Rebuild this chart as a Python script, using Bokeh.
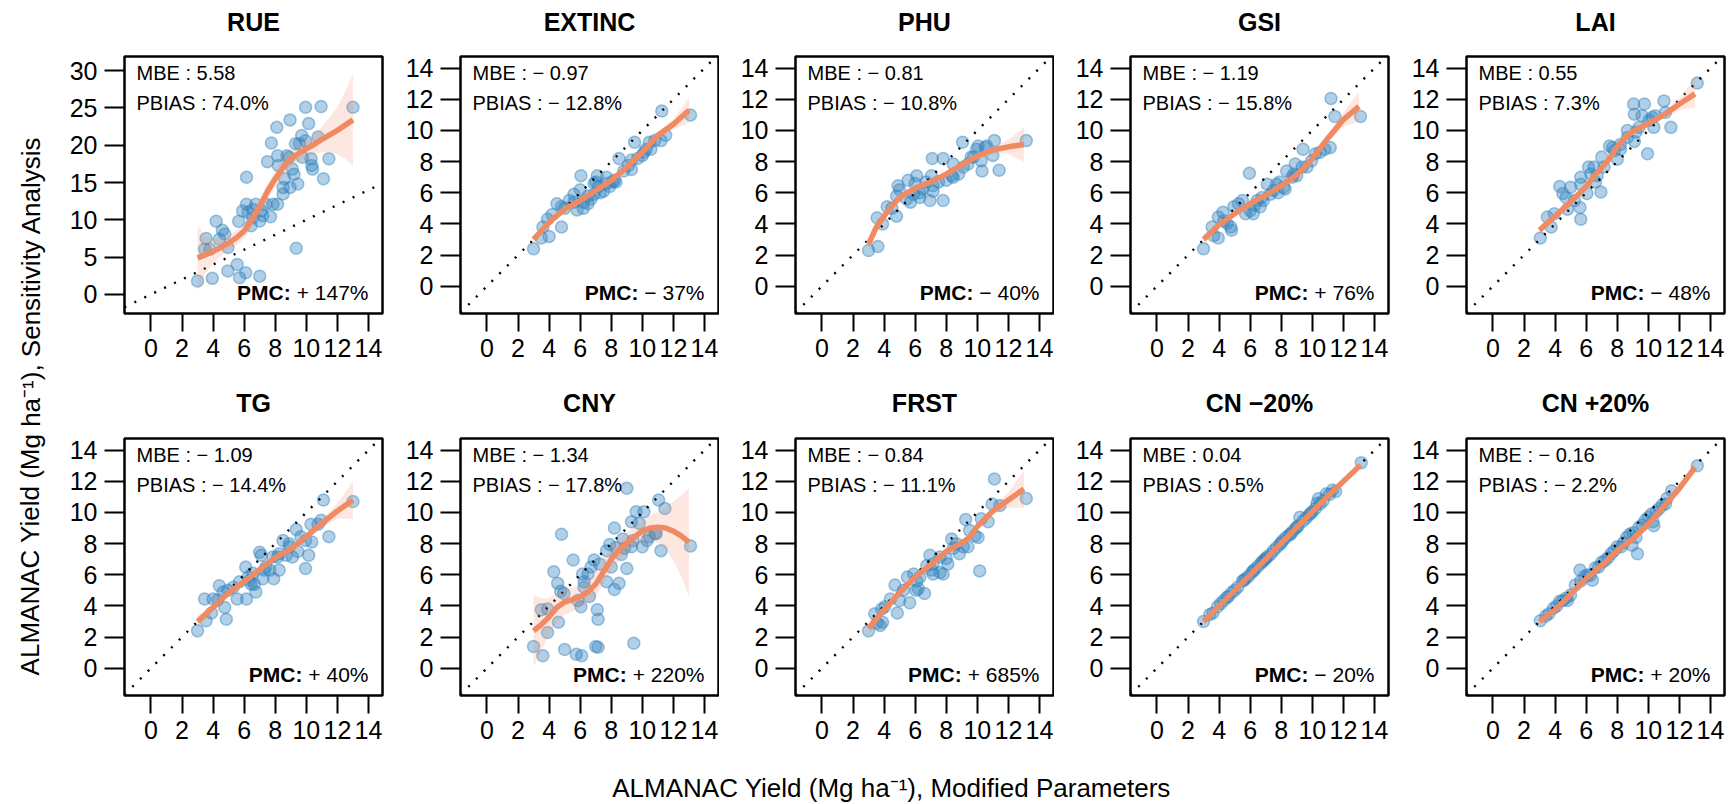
from bokeh.plotting import figure
from bokeh.models import Range1d, Label, FixedTicker
from bokeh.layouts import row, column
from bokeh.embed import file_html
from bokeh.resources import INLINE

FONT = "Liberation Sans"
BLUE = "#3182BD"
ORANGE = "#EF8A62"

titles = ["RUE", "EXTINC", "PHU", "GSI", "LAI", "TG", "CNY", "FRST", "CN \u221220%", "CN +20%"]
mbe = [5.58, -0.97, -0.81, -1.19, 0.55, -1.09, -1.34, -0.84, 0.04, -0.16]
pbias = [74.0, -12.8, -10.8, -15.8, 7.3, -14.4, -17.8, -11.1, 0.5, -2.2]
pmc = [147, -37, -40, 76, -48, 40, 220, 685, -20, 20]

x_ticks = [0, 2, 4, 6, 8, 10, 12, 14]
y_ticks = [0, 2, 4, 6, 8, 10, 12, 14]
y_ticks_rue = [0, 5, 10, 15, 20, 25, 30]

# ---------------- RUE ----------------
RUE_x = [3.0,3.55,3.45,3.8,3.95,4.2,4.4,4.6,4.75,4.95,4.95,5.55,5.65,5.7,6.1,6.15,6.15,6.25,6.45,6.55,6.75,7.0,7.0,7.1,7.2,7.5,7.7,7.75,7.85,8.1,8.15,8.2,8.15,8.5,8.6,8.75,8.9,8.95,8.95,9.1,9.2,9.3,9.45,9.35,9.55,9.7,9.75,9.95,10.15,9.95,10.3,10.35,10.4,10.75,10.95,11.1,11.45,13.0,5.9,6.55,7.4,8.5]
RUE_y = [1.8,7.5,6.05,6.05,2.15,9.8,7.4,8.6,8.1,3.15,6.3,4.0,9.8,2.25,2.9,15.7,12.1,11.0,9.2,11.4,12.1,2.45,9.85,11.2,10.55,17.8,10.4,20.3,12.1,22.4,12.1,17.3,18.6,13.45,15.5,18.6,18.4,14.35,23.4,16.8,16.1,20.2,14.8,6.2,20.2,21.3,18.4,20.6,22.9,25.1,18.2,17.3,16.8,21.1,25.2,15.5,18.2,25.1,11.2,10.3,12.1,14.35]
RUE_fx = [3,3.5,4,4.5,5,5.5,6,6.5,7,7.5,8,8.5,9,9.5,10,10.5,11,11.5,12,12.5,13]
RUE_fit = [4.9,5.3,5.8,6.3,6.9,7.6,8.5,10.0,11.8,13.8,15.5,17.0,18.2,18.9,19.5,20.1,20.8,21.4,22.0,22.7,23.4]
RUE_lo = [0.5,2.8,4.2,5.1,5.9,6.6,7.5,8.9,10.7,12.7,14.4,15.9,17.1,17.8,18.4,18.8,19.1,19.1,18.8,18.2,17.2]
RUE_hi = [9.3,7.8,7.4,7.5,7.9,8.6,9.5,11.1,12.9,14.9,16.6,18.1,19.3,20.0,20.6,21.4,22.5,23.7,25.2,27.2,29.6]

# ---------------- EXTINC ----------------
EXT_x = [3.0,3.5,3.6,4.0,3.9,4.2,4.5,4.8,4.8,5.0,5.6,5.8,6.05,6.0,6.2,6.2,6.5,6.7,6.9,7.1,7.0,7.2,7.5,7.7,7.9,8.1,8.3,8.5,8.8,9.1,9.3,9.5,9.7,10.0,10.25,10.45,10.55,10.8,11.2,11.25,11.5,13.1,6.5,7.3,8.2,5.6,6.9,7.7,9.3,10.1,5.3]
EXT_y = [2.4,3.1,3.8,3.2,4.3,4.6,5.3,3.8,5.1,5.0,5.9,4.9,7.1,6.2,5.0,5.4,5.3,5.6,5.9,7.1,6.7,6.4,6.1,7.0,6.4,6.7,6.7,8.2,7.4,7.75,8.1,9.25,8.2,8.4,8.8,9.25,8.8,9.35,9.35,11.25,9.7,11.0,5.8,6.0,6.8,5.4,6.6,6.6,7.5,8.6,5.5]
EXT_fx = [3,4,5,6,7,8,9,10,11,12,13]
EXT_fit = [3.0,4.1,4.95,5.5,6.15,6.8,7.65,8.6,9.7,10.4,11.3]
EXT_lo = [2.7,3.9,4.8,5.35,6.0,6.65,7.5,8.45,9.5,10.05,10.5]
EXT_hi = [3.3,4.3,5.1,5.65,6.3,6.95,7.8,8.75,9.9,10.75,12.1]

# ---------------- PHU ----------------
PHU_x = [3.0,3.6,3.55,3.9,4.2,4.5,4.8,4.9,4.8,5.0,5.55,5.7,6.0,6.1,6.3,6.5,6.7,6.95,7.05,7.1,7.15,7.5,7.8,7.8,8.0,8.35,8.45,8.8,9.05,9.1,9.4,9.6,9.95,10.05,10.25,10.3,10.5,10.6,11.0,11.1,11.4,13.15,5.45,5.9,7.15,8.45,9.75,6.3]
PHU_y = [2.3,2.55,4.4,4.0,5.1,5.0,4.5,6.45,5.8,6.2,6.8,5.4,6.6,7.1,5.7,6.25,6.7,5.5,7.1,8.2,6.1,6.7,8.2,5.5,6.8,7.1,7.85,7.2,9.25,7.65,7.85,8.3,8.8,9.0,8.05,7.4,8.9,9.0,8.4,9.35,7.45,9.35,5.6,5.9,6.45,7.0,8.3,6.0]
PHU_fx = [3,3.5,4,4.5,5,6,7,8,9,10,11,12,13]
PHU_fit = [2.7,3.8,4.5,5.15,5.7,6.3,6.7,7.2,7.8,8.35,8.75,8.95,9.1]
PHU_lo = [2.3,3.5,4.3,4.95,5.5,6.1,6.55,7.05,7.6,8.15,8.5,8.5,8.0]
PHU_hi = [3.1,4.1,4.7,5.35,5.9,6.5,6.85,7.35,8.0,8.55,9.0,9.4,10.2]

# ---------------- GSI ----------------
GSI_x = [3.0,3.55,3.65,3.95,3.95,4.25,4.5,4.75,4.8,4.95,5.5,5.7,5.95,6.0,6.2,6.3,6.65,6.75,7.1,7.3,7.5,7.7,7.8,8.15,8.25,8.35,8.7,8.9,9.0,9.35,9.4,9.65,9.95,10.2,10.5,10.8,11.15,11.2,11.45,13.1,5.25,6.45,7.9,8.8,6.85,4.3]
GSI_y = [2.4,3.8,3.25,3.1,4.45,4.75,4.05,3.8,3.6,5.1,5.5,4.65,7.25,4.85,4.65,5.2,5.1,5.7,6.55,5.9,6.15,6.55,6.0,6.35,6.25,7.4,7.0,7.85,7.1,7.65,8.8,7.65,8.05,8.5,8.6,8.8,8.9,12.05,10.9,10.9,5.3,5.5,6.7,7.2,5.5,4.2]
GSI_fx = [3,4,5,6,7,8,9,10,11,12,13]
GSI_fit = [3.0,3.95,4.65,5.3,5.85,6.45,7.15,8.2,9.5,10.7,11.55]
GSI_lo = [2.7,3.75,4.5,5.15,5.7,6.3,7.0,8.0,9.25,10.25,10.6]
GSI_hi = [3.3,4.15,4.8,5.45,6.0,6.6,7.3,8.4,9.75,11.15,12.5]

# ---------------- LAI ----------------
LAI_x = [3.05,3.5,3.75,3.95,4.3,4.5,4.7,4.8,5.0,5.25,5.6,5.65,5.65,6.05,6.15,6.3,6.5,6.6,6.95,7.0,7.15,7.5,7.7,8.0,8.2,8.65,9.05,9.1,9.1,9.4,9.75,9.6,9.95,10.05,10.35,10.45,11.0,11.1,11.45,13.15,5.65,6.7,7.8,8.65,9.2,8.2,10.25]
LAI_y = [3.1,4.45,3.8,4.65,6.4,5.95,5.7,4.95,6.35,5.5,5.05,4.3,7.0,5.95,7.65,7.2,7.65,6.7,6.05,8.3,7.65,9.0,8.9,8.15,8.8,10.0,11.7,11.05,9.3,10.2,11.7,10.95,8.5,10.65,10.2,10.95,11.9,11.15,10.2,13.05,6.55,7.1,8.7,9.55,9.9,9.1,10.85]
LAI_fx = [3,4,5,6,6.5,7,7.5,8,8.5,9,10,11,12,13]
LAI_fit = [3.6,4.5,5.4,6.4,7.05,7.6,8.2,8.95,9.55,9.95,10.45,11.0,11.7,12.35]
LAI_lo = [3.3,4.3,5.25,6.25,6.9,7.45,8.05,8.8,9.4,9.8,10.3,10.8,11.3,11.5]
LAI_hi = [3.9,4.7,5.55,6.55,7.2,7.75,8.35,9.1,9.7,10.1,10.6,11.2,12.1,13.3]

# ---------------- TG ----------------
TG_x = [3.0,3.45,3.55,3.9,4.0,4.3,4.4,4.65,4.75,4.85,4.95,5.55,5.7,6.15,6.1,6.25,6.45,6.65,6.75,7.0,7.1,7.2,7.3,7.65,7.85,7.9,8.15,8.25,8.5,8.7,8.9,9.1,9.35,9.45,9.65,9.95,9.95,10.15,10.3,10.35,10.75,10.95,11.1,11.45,13.0,5.3,6.55,7.4,8.25,8.9,6.35]
TG_y = [2.4,4.45,3.05,3.55,4.45,4.4,5.3,4.9,3.9,3.15,5.0,4.45,5.55,4.45,6.5,5.85,5.4,5.4,4.9,7.45,7.25,5.75,6.3,6.3,7.15,5.75,7.15,6.3,8.2,7.25,7.8,7.15,8.9,7.5,8.45,6.4,8.2,7.25,9.25,8.1,9.25,9.5,10.8,8.45,10.7,5.2,6.1,6.5,7.35,8.0,5.65]
TG_fx = [3,4,5,6,7,8,9,10,11,12,13]
TG_fit = [3.0,3.9,4.85,5.55,6.35,7.1,7.65,8.45,9.3,10.1,10.8]
TG_lo = [2.6,3.7,4.7,5.4,6.2,6.95,7.5,8.25,9.05,9.6,9.6]
TG_hi = [3.4,4.1,5.0,5.7,6.5,7.25,7.8,8.65,9.55,10.6,12.0]

# ---------------- CNY ----------------
CNY_x = [3.0,3.6,3.5,3.9,3.9,4.3,4.55,4.6,4.75,4.8,4.95,5.0,5.55,5.75,5.85,6.05,6.1,6.15,6.25,6.5,6.6,6.7,6.9,7.1,7.15,7.0,7.15,7.25,7.7,7.7,7.9,8.0,8.2,8.2,8.3,8.5,8.75,8.85,9.0,9.3,9.3,9.45,9.6,9.8,10.0,10.1,10.3,10.45,10.8,10.9,11.05,11.2,11.45,9.0,13.1,9.4,8.65,6.25]
CNY_y = [1.4,0.8,3.75,2.3,3.8,6.2,5.45,2.95,4.95,8.6,4.8,1.2,6.95,0.9,4.35,3.95,0.8,6.05,5.55,6.05,4.6,6.5,6.95,3.75,3.15,1.4,1.35,6.7,5.55,7.55,7.95,6.5,5.05,9.0,7.75,5.45,8.3,7.7,6.4,9.4,7.8,1.6,10.05,9.3,7.8,10.05,8.2,8.45,8.65,8.65,10.8,7.55,10.25,11.55,7.85,8.2,7.3,5.2]
CNY_fx = [3,3.5,4,4.5,5,5.5,6,6.5,7,7.5,8,8.5,9,9.5,10,10.5,11,11.5,12,12.5,13]
CNY_fit = [2.4,2.8,3.3,3.9,4.25,4.4,4.6,4.9,5.4,6.2,7.0,7.6,8.05,8.45,8.8,9.0,9.05,9.0,8.8,8.5,8.1]
CNY_lo = [0.1,1.1,2.1,2.95,3.45,3.65,3.9,4.15,4.6,5.4,6.25,6.9,7.4,7.8,8.1,8.2,8.05,7.65,6.9,5.9,4.6]
CNY_hi = [4.7,4.5,4.5,4.85,5.05,5.15,5.3,5.65,6.2,7.0,7.75,8.3,8.7,9.1,9.5,9.8,10.05,10.35,10.7,11.1,11.6]

# ---------------- FRST ----------------
FRST_x = [3.0,3.4,3.55,3.75,3.85,3.9,4.05,4.4,4.7,4.85,5.0,5.5,5.65,5.9,6.05,6.2,6.3,6.6,6.95,7.05,7.15,7.6,7.8,8.0,8.1,8.35,8.65,8.85,9.1,9.25,9.4,9.5,9.85,10.05,10.15,10.25,10.7,10.95,11.1,11.45,13.15,5.25,6.75,7.6,8.45,7.15,6.1]
FRST_y = [2.4,3.5,2.9,2.75,3.8,2.95,3.95,4.45,5.35,3.55,4.35,5.85,4.2,6.05,5.0,5.1,5.85,4.8,7.25,6.3,6.7,6.15,6.05,7.05,6.7,8.3,8.0,7.35,7.8,9.55,7.8,8.85,8.5,8.4,6.25,9.6,9.4,10.55,12.15,10.45,10.9,5.0,6.6,7.15,7.7,6.05,5.6]
FRST_fx = [3,4,5,6,7,8,9,9.5,10,11,12,13]
FRST_fit = [2.55,3.75,4.85,5.85,6.65,7.5,8.05,8.4,9.1,10.1,10.8,11.5]
FRST_lo = [2.1,3.5,4.7,5.7,6.5,7.35,7.85,8.2,8.9,9.85,10.3,10.3]
FRST_hi = [3.0,4.0,5.0,6.0,6.8,7.65,8.25,8.6,9.3,10.35,11.3,12.7]

# ---------------- CN -20% ----------------
CNM_x = [3.0,3.4,3.6,3.9,4.1,4.3,4.5,4.6,4.8,5.0,5.2,5.5,5.6,5.7,5.9,6.1,6.2,6.3,6.5,6.7,6.8,6.9,7.0,7.1,7.3,7.5,7.7,7.9,8.0,8.1,8.3,8.5,8.6,8.7,8.9,9.0,9.1,9.2,9.4,9.6,9.8,9.9,10.0,10.2,10.3,10.4,10.5,10.7,10.9,11.1,11.3,11.5,13.15]
CNM_y = [3.0,3.45,3.55,3.95,4.15,4.35,4.55,4.6,4.85,5.0,5.2,5.6,5.65,5.75,5.9,6.15,6.25,6.35,6.55,6.75,6.85,6.95,7.05,7.15,7.3,7.55,7.75,7.95,8.05,8.2,8.4,8.55,8.6,8.75,8.95,9.05,9.15,9.7,9.45,9.65,9.85,9.95,10.05,10.25,10.6,10.9,10.55,10.75,11.2,11.15,11.45,11.35,13.2]
CNM_fx = [3,5,7,9,11,13.1]
CNM_fit = [3.0,5.0,7.0,9.05,11.05,13.05]
CNM_lo = [2.92,4.95,6.95,9.0,10.98,12.9]
CNM_hi = [3.08,5.05,7.05,9.1,11.12,13.2]

# ---------------- CN +20% ----------------
CNP_x = [3.05,3.4,3.6,3.9,4.1,4.3,4.5,4.7,4.8,5.0,5.3,5.6,5.65,5.9,6.1,6.25,6.4,6.6,6.8,7.0,7.2,7.4,7.6,7.8,8.0,8.25,8.4,8.6,8.8,8.95,9.0,9.2,9.3,9.4,9.6,9.8,10.0,10.2,10.3,10.35,10.5,10.7,10.9,11.1,11.2,11.5,13.15]
CNP_y = [3.05,3.35,3.5,3.85,4.0,4.3,4.35,4.5,4.35,4.7,5.35,6.3,5.6,5.9,6.0,5.95,5.65,6.45,6.5,6.8,6.9,7.1,7.35,7.55,7.8,7.8,8.05,8.4,8.6,7.9,8.7,8.4,7.35,9.05,9.2,9.5,9.7,9.9,9.4,9.15,10.05,10.25,10.5,10.55,10.9,11.4,13.0]
CNP_fx = [3,4,5,6,7,8,9,10,11,12,13]
CNP_fit = [3.0,3.75,4.75,5.75,6.6,7.55,8.3,9.25,10.4,11.55,12.9]
CNP_lo = [2.85,3.65,4.65,5.65,6.5,7.45,8.2,9.12,10.25,11.35,12.5]
CNP_hi = [3.15,3.85,4.85,5.85,6.7,7.65,8.4,9.38,10.55,11.75,13.3]

panels = [
    (RUE_x, RUE_y, RUE_fx, RUE_fit, RUE_lo, RUE_hi),
    (EXT_x, EXT_y, EXT_fx, EXT_fit, EXT_lo, EXT_hi),
    (PHU_x, PHU_y, PHU_fx, PHU_fit, PHU_lo, PHU_hi),
    (GSI_x, GSI_y, GSI_fx, GSI_fit, GSI_lo, GSI_hi),
    (LAI_x, LAI_y, LAI_fx, LAI_fit, LAI_lo, LAI_hi),
    (TG_x, TG_y, TG_fx, TG_fit, TG_lo, TG_hi),
    (CNY_x, CNY_y, CNY_fx, CNY_fit, CNY_lo, CNY_hi),
    (FRST_x, FRST_y, FRST_fx, FRST_fit, FRST_lo, FRST_hi),
    (CNM_x, CNM_y, CNM_fx, CNM_fit, CNM_lo, CNM_hi),
    (CNP_x, CNP_y, CNP_fx, CNP_fit, CNP_lo, CNP_hi),
]

# ---------------- layout constants (page has no margin) ----------------
X_RANGE = (-1.7, 14.9)
Y_RANGE = (-1.75, 14.75)
Y_RANGE_RUE = (-2.56, 31.9)
FRAME_W, FRAME_H = 258, 257
LEFT = 76
PAD_TOP = 6
COL_W = [336, 335, 335, 336, 346]
ROW_BOTTOM = [77, 50]
STRIP_H = [50, 42]          # title strips above each row
TITLE_MID = [29, 30]        # title centre above strip bottom
YLAB_W = 48
GRID_W = sum(COL_W)

CW = {c: 0.556 for c in "0123456789"}
CW.update({" ": 0.278, "%": 0.889, "+": 0.584, "\u2212": 0.584, ".": 0.278})


def text_width(s, size):
    return sum(CW.get(c, 0.556) for c in s) * size


def signed(v, nd):
    s = f"{abs(v):.{nd}f}"
    return ("\u2212 " + s) if v < 0 else s


def add_label(p, x, y, text, size, align="left", baseline="middle", bold=False):
    p.add_layout(Label(x=x, y=y, x_units="screen", y_units="screen", text=text,
                       text_font=FONT, text_font_size=f"{size}px", text_align=align,
                       text_baseline=baseline, text_color="black",
                       text_font_style="bold" if bold else "normal"))


def blank(width, height):
    f = figure(width=width, height=height, x_range=Range1d(0, width), y_range=Range1d(0, height),
               output_backend="svg", toolbar_location=None, min_border=0,
               x_axis_type=None, y_axis_type=None)
    f.outline_line_color = None
    f.xgrid.visible = False
    f.ygrid.visible = False
    f.background_fill_color = "white"
    f.border_fill_color = "white"
    return f


def make_panel(i, width, bottom):
    xs, ys, fx, fit, lo, hi = panels[i]
    yr = Y_RANGE_RUE if i == 0 else Y_RANGE
    p = figure(width=width, height=PAD_TOP + FRAME_H + bottom,
               x_range=Range1d(*X_RANGE), y_range=Range1d(*yr),
               output_backend="svg", toolbar_location=None,
               min_border_left=LEFT, min_border_right=width - LEFT - FRAME_W,
               min_border_top=PAD_TOP, min_border_bottom=bottom)
    p.xgrid.visible = False
    p.ygrid.visible = False
    p.background_fill_color = "white"
    p.border_fill_color = "white"
    p.outline_line_color = "black"
    p.outline_line_width = 2.5
    p.outline_line_alpha = 1.0
    for ax in (p.xaxis[0], p.yaxis[0]):
        ax.axis_line_color = None
        ax.major_tick_line_width = 2
        ax.major_tick_line_color = "black"
        ax.major_tick_in = 0
        ax.minor_tick_line_color = None
        ax.major_label_text_font = FONT
        ax.major_label_text_font_size = "25px"
        ax.major_label_text_color = "black"
    p.xaxis.ticker = FixedTicker(ticks=x_ticks)
    p.yaxis.ticker = FixedTicker(ticks=y_ticks_rue if i == 0 else y_ticks)
    p.xaxis.major_tick_out = 18
    p.yaxis.major_tick_out = 20
    p.xaxis.major_label_standoff = 7
    p.yaxis.major_label_standoff = 7

    p.scatter(xs, ys, size=12, fill_color=BLUE, fill_alpha=0.38,
              line_color=BLUE, line_alpha=0.45, line_width=1.5)
    p.line([X_RANGE[0], X_RANGE[1]], [X_RANGE[0], X_RANGE[1]], line_color="black",
           line_width=2.4, line_dash="2 9")
    p.varea(x=fx, y1=lo, y2=hi, fill_color=ORANGE, fill_alpha=0.2)
    p.line(fx, fit, line_color=ORANGE, line_width=5.5, line_cap="butt")

    add_label(p, 12, FRAME_H - 16, "MBE : " + signed(mbe[i], 2), 20)
    add_label(p, 12, FRAME_H - 46, "PBIAS : " + signed(pbias[i], 1) + "%", 20)
    val = ("+ " if pmc[i] > 0 else "\u2212 ") + f"{abs(pmc[i])}%"
    xr = FRAME_W - 14
    add_label(p, xr, 21.5, val, 21, align="right")
    add_label(p, xr - text_width(val, 21) - 6, 21.5, "PMC:", 21, align="right", bold=True)
    return p


def make_strip(r):
    s = blank(GRID_W, STRIP_H[r])
    start = 0
    for k in range(5):
        s.add_layout(Label(x=start + LEFT + FRAME_W / 2, y=TITLE_MID[r], text=titles[5 * r + k],
                           text_align="center", text_baseline="middle",
                           text_font=FONT, text_font_size="25px", text_font_style="bold",
                           text_color="black"))
        start += COL_W[k]
    return s


top_row = [make_panel(i, COL_W[i], ROW_BOTTOM[0]) for i in range(5)]
bot_row = [make_panel(i + 5, COL_W[i], ROW_BOTTOM[1]) for i in range(5)]

grid_h = sum(STRIP_H) + 2 * (PAD_TOP + FRAME_H) + sum(ROW_BOTTOM)
ylab = blank(YLAB_W, grid_h)
ylab.add_layout(Label(x=30, y=grid_h - 405, text="ALMANAC Yield (Mg ha\u207b\u00b9), Sensitivity Analysis",
                      angle=1.5707963, text_align="center", text_baseline="middle",
                      text_font=FONT, text_font_size="26px", text_color="black"))

total_w = YLAB_W + GRID_W
XLAB_H = 804 - grid_h
xlab = blank(total_w, XLAB_H)
xlab.add_layout(Label(x=891, y=17, text="ALMANAC Yield (Mg ha\u207b\u00b9), Modified Parameters",
                      text_align="center", text_baseline="middle",
                      text_font=FONT, text_font_size="26px", text_color="black"))

right = column(make_strip(0), row(*top_row), make_strip(1), row(*bot_row))
layout = column(row(ylab, right), xlab)

open("out.html", "w").write(file_html(layout, INLINE))
